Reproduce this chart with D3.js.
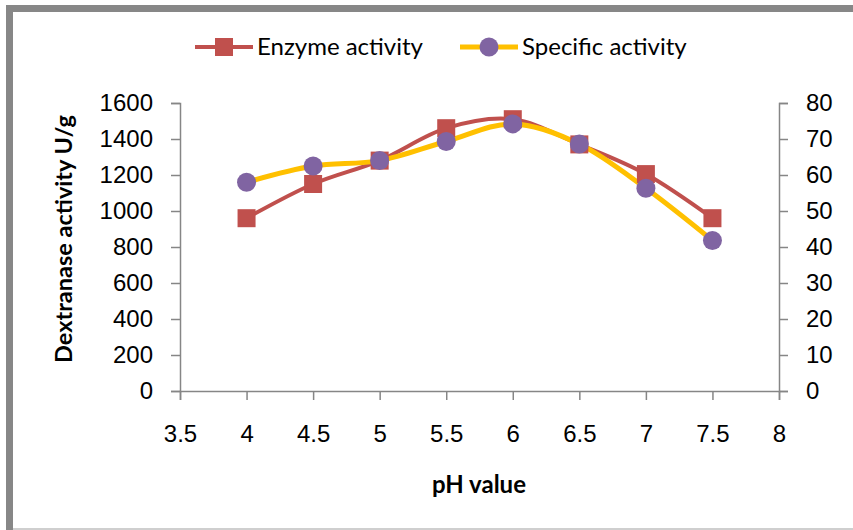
<!DOCTYPE html>
<html>
<head>
<meta charset="utf-8">
<script src="https://cdn.jsdelivr.net/npm/d3@7"></script>
<style>
  body { margin: 0; background: #fff; }
  svg { display: block; }
</style>
</head>
<body>
<svg id="chart" width="853" height="530"></svg>
<script>
// values
const phValues = [4, 4.5, 5, 5.5, 6, 6.5, 7, 7.5]
const enzymeActivity = [960, 1150, 1280, 1460, 1510, 1370, 1205, 960]
const specificActivity = [58, 62.5, 64, 69.3, 74.2, 68.6, 56.3, 41.8]
const xTicks = [3.5, 4, 4.5, 5, 5.5, 6, 6.5, 7, 7.5, 8]
const leftTicks = [0, 200, 400, 600, 800, 1000, 1200, 1400, 1600]
const rightTicks = [0, 10, 20, 30, 40, 50, 60, 70, 80]
const seriesNames = ['Enzyme activity', 'Specific activity']

const svg = d3.select('#chart')
const plot = {left: 180, right: 779, top: 103, bottom: 391}
const axisColor = '#868686'
const red = '#C0504D', yellow = '#FFC000', purple = '#8064A2'
const tickFont = '"Liberation Sans", Arial, sans-serif'
const labelFont = 'Lato, "Open Sans", sans-serif'

// frame
svg.append('rect').attr('x', 6).attr('y', 5).attr('width', 847).attr('height', 7).attr('fill', '#878787')
svg.append('rect').attr('x', 6).attr('y', 5).attr('width', 7).attr('height', 525).attr('fill', '#878787')
svg.append('rect').attr('x', 13).attr('y', 528).attr('width', 840).attr('height', 2).attr('fill', '#cfcfcf')

const x = d3.scaleLinear().domain([3.5, 8]).range([plot.left, plot.right])
const yLeft = d3.scaleLinear().domain([0, 1600]).range([plot.bottom, plot.top])
const yRight = d3.scaleLinear().domain([0, 80]).range([plot.bottom, plot.top])

const styleAxis = (g) => {
  g.select('.domain').attr('stroke', axisColor).attr('stroke-width', 1.5)
  g.selectAll('.tick line').attr('stroke', axisColor).attr('stroke-width', 1.5)
  g.selectAll('.tick text').attr('fill', '#000').attr('font-family', tickFont).attr('font-size', 24)
}

svg.append('g')
  .attr('transform', `translate(0, ${plot.bottom})`)
  .call(d3.axisBottom(x).tickValues(xTicks).tickFormat(d3.format('')).tickSizeOuter(0).tickSize(9).tickPadding(25))
  .call(styleAxis)

svg.append('g')
  .attr('transform', `translate(${plot.left}, 0)`)
  .call(d3.axisLeft(yLeft).tickValues(leftTicks).tickSizeOuter(0).tickSize(9).tickPadding(18).tickFormat(d3.format('d')))
  .call(styleAxis)

svg.append('g')
  .attr('transform', `translate(${plot.right}, 0)`)
  .call(d3.axisRight(yRight).tickValues(rightTicks).tickSizeOuter(0).tickSize(9).tickPadding(18).tickFormat(d3.format('d')))
  .call(styleAxis)

// axis titles
svg.append('text')
  .attr('transform', `translate(72, ${(plot.top + plot.bottom) / 2 - 8}) rotate(-90)`)
  .attr('text-anchor', 'middle')
  .attr('font-family', labelFont).attr('font-weight', 'bold').attr('font-size', 23.5)
  .text('Dextranase activity U/g')

svg.append('text')
  .attr('x', 479).attr('y', 493)
  .attr('text-anchor', 'middle')
  .attr('font-family', labelFont).attr('font-weight', 'bold').attr('font-size', 24)
  .text('pH value')

// lines
const enzymeData = phValues.map((p, i) => ({p, v: enzymeActivity[i]}))
const specificData = phValues.map((p, i) => ({p, v: specificActivity[i]}))

const enzymeLine = d3.line().x(d => x(d.p)).y(d => yLeft(d.v)).curve(d3.curveCardinal.tension(0))
const specificLine = d3.line().x(d => x(d.p)).y(d => yRight(d.v)).curve(d3.curveCardinal.tension(0))

svg.append('path').datum(enzymeData)
  .attr('d', enzymeLine).attr('fill', 'none').attr('stroke', red).attr('stroke-width', 4)

svg.append('path').datum(specificData)
  .attr('d', specificLine).attr('fill', 'none').attr('stroke', yellow).attr('stroke-width', 5)

const sq = 18
svg.selectAll('.sq').data(enzymeData).enter()
  .append('rect').attr('class', 'sq')
  .attr('x', d => x(d.p) - sq / 2).attr('y', d => yLeft(d.v) - sq / 2)
  .attr('width', sq).attr('height', sq).attr('fill', red)

svg.selectAll('.dot').data(specificData).enter()
  .append('circle').attr('class', 'dot')
  .attr('cx', d => x(d.p)).attr('cy', d => yRight(d.v))
  .attr('r', 9.5).attr('fill', purple)

// legend
const legendY = 47
const legend = [
  {name: seriesNames[0], x0: 195, color: red, marker: 'square'},
  {name: seriesNames[1], x0: 460, color: yellow, marker: 'circle'}
]
legend.forEach(item => {
  const g = svg.append('g')
  g.append('line').attr('x1', item.x0).attr('x2', item.x0 + 58)
    .attr('y1', legendY).attr('y2', legendY)
    .attr('stroke', item.color).attr('stroke-width', item.marker === 'square' ? 4 : 5)
  if (item.marker === 'square') {
    g.append('rect').attr('x', item.x0 + 29 - sq / 2).attr('y', legendY - sq / 2)
      .attr('width', sq).attr('height', sq).attr('fill', red)
  } else {
    g.append('circle').attr('cx', item.x0 + 29).attr('cy', legendY).attr('r', 9.5).attr('fill', purple)
  }
  g.append('text').attr('x', item.x0 + 62).attr('y', legendY + 8)
    .attr('font-family', labelFont).attr('font-size', 24)
    .text(item.name)
})
</script>
</body>
</html>
